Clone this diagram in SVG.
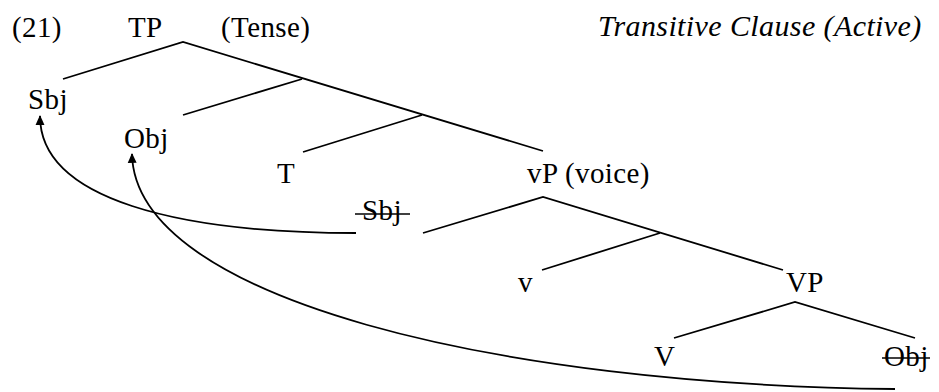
<svg xmlns="http://www.w3.org/2000/svg" width="939" height="392" viewBox="0 0 939 392">
<style>
text{font-family:"Liberation Serif","Times New Roman",serif;font-size:29px;letter-spacing:0.4px;fill:#000}
.it{font-style:italic;font-size:30px}
.br{stroke:#000;stroke-width:1.8;fill:none}
.mv{stroke:#000;stroke-width:1.8;fill:none;marker-end:url(#ah)}
.st{stroke:#000;stroke-width:1.5}
</style>
<defs>
<marker id="ah" viewBox="0 0 10 10" refX="9" refY="5" markerWidth="5.5" markerHeight="5.5" orient="auto" markerUnits="strokeWidth">
<path d="M0,0.5 L10,5 L0,9.5 Z" fill="#000"/>
</marker>
</defs>
<rect width="939" height="392" fill="#fff"/>
<g id="labels">
<text x="12" y="37">(21)</text>
<text x="598" y="36" class="it">Transitive Clause (Active)</text>
</g>
<g id="n-TP"><text x="128" y="37">TP</text><text x="221" y="37">(Tense)</text></g>
<g id="n-Sbj"><text x="28" y="109">Sbj</text></g>
<g id="n-Obj"><text x="124" y="148">Obj</text></g>
<g id="n-T"><text x="277" y="183">T</text></g>
<g id="n-vP"><text x="527" y="183">vP (voice)</text></g>
<g id="n-Sbj-trace"><text x="362" y="220">Sbj</text><line class="st" x1="355" y1="214" x2="410" y2="214"/></g>
<g id="n-v"><text x="518" y="292">v</text></g>
<g id="n-VP"><text x="786" y="292">VP</text></g>
<g id="n-V"><text x="654" y="366">V</text></g>
<g id="n-Obj-trace"><text x="884" y="366">Obj</text><line class="st" x1="882" y1="358" x2="930" y2="358"/></g>
<g id="connectors">
<polyline class="br" points="63,79 183,42 543,151"/>
<line class="br" x1="302" y1="79" x2="183" y2="115"/>
<line class="br" x1="422" y1="115" x2="303" y2="152"/>
<polyline class="br" points="423,233 543,197 783,270"/>
<line class="br" x1="660" y1="233" x2="542" y2="270"/>
<polyline class="br" points="674,338 795,302 915,338"/>
<path class="mv" d="M356,233 C180,233 40,200 40,116"/>
<path class="mv" d="M895,389 C500,385 135,300 132,154"/>
</g>
</svg>
